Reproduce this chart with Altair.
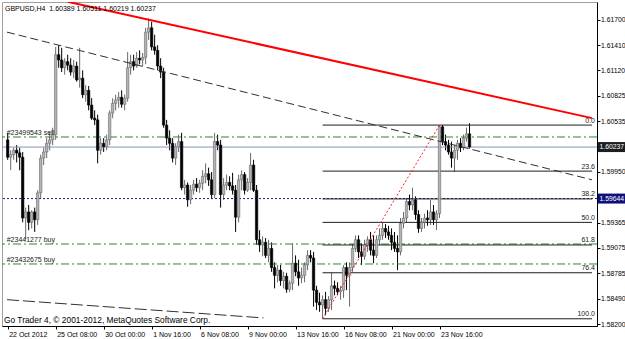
import altair as alt
import pandas as pd

# ---------------- data (GBPUSD H4 candles) ----------------
opens = [1.6032, 1.6012, 1.6015, 1.6020, 1.6017, 1.6012, 1.5942, 1.5949, 1.5937, 1.5949,
         1.5940, 1.5971, 1.6011, 1.6018, 1.6028, 1.6032, 1.6038, 1.6130, 1.6124, 1.6115,
         1.6122, 1.6118, 1.6110, 1.6117, 1.6101, 1.6103, 1.6084, 1.6089, 1.6072, 1.6057,
         1.6055, 1.6020, 1.6028, 1.6024, 1.6032, 1.6063, 1.6074, 1.6078, 1.6081, 1.6073,
         1.6080, 1.6115, 1.6122, 1.6117, 1.6126, 1.6124, 1.6127, 1.6156, 1.6161, 1.6139,
         1.6135, 1.6117, 1.6110, 1.6049, 1.6034, 1.6028, 1.6011, 1.6024, 1.6030, 1.5977,
         1.5980, 1.5963, 1.5974, 1.5981, 1.5977, 1.5982, 1.5990, 1.5993, 1.5986, 1.5969,
         1.6030, 1.6026, 1.5969, 1.5980, 1.5983, 1.5979, 1.5974, 1.5943, 1.5986, 1.5992,
         1.5974, 1.5983, 1.6003, 1.5974, 1.5917, 1.5911, 1.5914, 1.5899, 1.5907, 1.5885,
         1.5876, 1.5882, 1.5870, 1.5875, 1.5860, 1.5867, 1.5890, 1.5880, 1.5873, 1.5876,
         1.5888, 1.5899, 1.5896, 1.5859, 1.5845, 1.5842, 1.5848, 1.5838, 1.5848, 1.5864,
         1.5861, 1.5857, 1.5859, 1.5885, 1.5876, 1.5885, 1.5907, 1.5917, 1.5903, 1.5898,
         1.5911, 1.5917, 1.5905, 1.5899, 1.5917, 1.5922, 1.5930, 1.5926, 1.5922, 1.5914,
         1.5907, 1.5903, 1.5936, 1.5942, 1.5961, 1.5957, 1.5963, 1.5946, 1.5930, 1.5937,
         1.5942, 1.5940, 1.5949, 1.5940, 1.5947, 1.6047, 1.6030, 1.6026, 1.6018, 1.6011,
         1.6020, 1.6028, 1.6023, 1.6034, 1.60389]
highs = [1.6040, 1.6020, 1.6023, 1.6026, 1.6023, 1.6018, 1.5954, 1.5957, 1.5951, 1.5954,
         1.5974, 1.6015, 1.6023, 1.6034, 1.6041, 1.6046, 1.6139, 1.6141, 1.6138, 1.6126,
         1.6130, 1.6126, 1.6124, 1.6122, 1.6138, 1.6112, 1.6095, 1.6094, 1.6080, 1.6066,
         1.6061, 1.6034, 1.6034, 1.6038, 1.6066, 1.6080, 1.6084, 1.6087, 1.6089, 1.6084,
         1.6133, 1.6130, 1.6130, 1.6133, 1.6135, 1.6132, 1.6161, 1.6172, 1.6168, 1.6153,
         1.6141, 1.6126, 1.6115, 1.6055, 1.6043, 1.6034, 1.6028, 1.6038, 1.6040, 1.5986,
         1.5983, 1.5980, 1.5986, 1.5988, 1.5986, 1.5997, 1.6005, 1.6000, 1.5995, 1.6040,
         1.6038, 1.6032, 1.5988, 1.5992, 1.5990, 1.5994, 1.5980, 1.5992, 1.5997, 1.5995,
         1.5988, 1.6017, 1.6009, 1.5980, 1.5928, 1.5921, 1.5919, 1.5917, 1.5914, 1.5891,
         1.5888, 1.5888, 1.5880, 1.5879, 1.5870, 1.5913, 1.5899, 1.5894, 1.5885, 1.5891,
         1.5905, 1.5905, 1.5903, 1.5864, 1.5856, 1.5853, 1.5857, 1.5852, 1.5879, 1.5870,
         1.5868, 1.5864, 1.5888, 1.5891, 1.5891, 1.5912, 1.5922, 1.5922, 1.5913, 1.5917,
         1.5921, 1.5926, 1.5922, 1.5922, 1.5930, 1.5937, 1.5935, 1.5933, 1.5930, 1.5926,
         1.5922, 1.5942, 1.5949, 1.5965, 1.5969, 1.5977, 1.5967, 1.5951, 1.5942, 1.5947,
         1.5951, 1.5963, 1.5957, 1.5951, 1.6049, 1.6049, 1.6038, 1.6032, 1.6030, 1.6026,
         1.6032, 1.6034, 1.6038, 1.6046, 1.60511]
lows = [1.6009, 1.5997, 1.6009, 1.6006, 1.5997, 1.5937, 1.5917, 1.5928, 1.5930, 1.5926,
        1.5934, 1.5965, 1.6003, 1.6011, 1.6020, 1.6026, 1.6032, 1.6115, 1.6110, 1.6107,
        1.6112, 1.6106, 1.6103, 1.6099, 1.6092, 1.6080, 1.6076, 1.6066, 1.6055, 1.6049,
        1.6005, 1.6015, 1.6018, 1.6020, 1.6026, 1.6057, 1.6066, 1.6069, 1.6069, 1.6066,
        1.6076, 1.6107, 1.6112, 1.6115, 1.6119, 1.6117, 1.6119, 1.6147, 1.6135, 1.6130,
        1.6112, 1.6103, 1.6046, 1.6026, 1.6020, 1.6006, 1.6003, 1.6018, 1.5974, 1.5969,
        1.5955, 1.5958, 1.5969, 1.5972, 1.5971, 1.5974, 1.5982, 1.5979, 1.5965, 1.5965,
        1.6020, 1.5954, 1.5963, 1.5974, 1.5974, 1.5969, 1.5926, 1.5937, 1.5974, 1.5969,
        1.5972, 1.5974, 1.5972, 1.5911, 1.5903, 1.5898, 1.5896, 1.5891, 1.5880, 1.5861,
        1.5868, 1.5864, 1.5861, 1.5856, 1.5857, 1.5859, 1.5875, 1.5864, 1.5867, 1.5868,
        1.5882, 1.5891, 1.5840, 1.5836, 1.5834, 1.5826, 1.5830, 1.5834, 1.5836, 1.5853,
        1.5853, 1.5848, 1.5850, 1.5859, 1.5840, 1.5880, 1.5903, 1.5896, 1.5888, 1.5894,
        1.5903, 1.5899, 1.5890, 1.5896, 1.5911, 1.5917, 1.5919, 1.5917, 1.5905, 1.5903,
        1.5882, 1.5899, 1.5930, 1.5937, 1.5951, 1.5951, 1.5940, 1.5925, 1.5926, 1.5930,
        1.5933, 1.5934, 1.5934, 1.5928, 1.5942, 1.6026, 1.6020, 1.6015, 1.6000, 1.5995,
        1.6009, 1.6018, 1.6020, 1.6030, 1.60219]
closes = [1.6012, 1.6015, 1.6020, 1.6017, 1.6012, 1.5942, 1.5949, 1.5937, 1.5949, 1.5940,
          1.5971, 1.6011, 1.6018, 1.6028, 1.6032, 1.6038, 1.6130, 1.6124, 1.6115, 1.6122,
          1.6118, 1.6110, 1.6117, 1.6101, 1.6103, 1.6084, 1.6089, 1.6072, 1.6057, 1.6055,
          1.6020, 1.6028, 1.6024, 1.6032, 1.6063, 1.6074, 1.6078, 1.6081, 1.6073, 1.6080,
          1.6115, 1.6122, 1.6117, 1.6126, 1.6124, 1.6127, 1.6156, 1.6161, 1.6139, 1.6135,
          1.6117, 1.6110, 1.6049, 1.6034, 1.6028, 1.6011, 1.6024, 1.6030, 1.5977, 1.5980,
          1.5963, 1.5974, 1.5981, 1.5977, 1.5982, 1.5990, 1.5993, 1.5986, 1.5969, 1.6030,
          1.6026, 1.5969, 1.5980, 1.5983, 1.5979, 1.5974, 1.5943, 1.5986, 1.5992, 1.5974,
          1.5983, 1.6003, 1.5974, 1.5917, 1.5911, 1.5914, 1.5899, 1.5907, 1.5885, 1.5876,
          1.5882, 1.5870, 1.5875, 1.5860, 1.5867, 1.5890, 1.5880, 1.5873, 1.5876, 1.5888,
          1.5899, 1.5896, 1.5859, 1.5845, 1.5842, 1.5848, 1.5838, 1.5848, 1.5864, 1.5861,
          1.5857, 1.5859, 1.5885, 1.5876, 1.5885, 1.5907, 1.5917, 1.5903, 1.5898, 1.5911,
          1.5917, 1.5905, 1.5899, 1.5917, 1.5922, 1.5930, 1.5926, 1.5922, 1.5914, 1.5907,
          1.5903, 1.5936, 1.5942, 1.5961, 1.5957, 1.5963, 1.5946, 1.5930, 1.5937, 1.5942,
          1.5940, 1.5949, 1.5940, 1.5947, 1.6047, 1.6030, 1.6026, 1.6018, 1.6011, 1.6020,
          1.6028, 1.6023, 1.6034, 1.60389, 1.60237]

symbol = "GBPUSD,H4"
time_tick_bars = [0, 16, 32, 48, 64, 80, 96, 112, 128, 144]
time_tick_labels = ["22 Oct 2012", "25 Oct 08:00", "30 Oct 00:00", "1 Nov 16:00", "6 Nov 08:00",
                    "9 Nov 00:00", "13 Nov 16:00", "16 Nov 08:00", "21 Nov 00:00", "23 Nov 16:00"]
price_ticks = [1.61700, 1.61410, 1.61120, 1.60825, 1.60535, 1.59950, 1.59365,
               1.59075, 1.58785, 1.58490, 1.58200]

bid_price = 1.60237
hline_price = 1.59644
order_prices = [1.60353, 1.59121, 1.58891]
order_labels = ["#23499543 sell", "#23441277 buy", "#23432675 buy"]

fib_levels = ["0.0", "23.6", "38.2", "50.0", "61.8", "76.4", "100.0"]
fib_prices = [1.6049, 1.5996, 1.5964, 1.5937, 1.5911, 1.5879, 1.5826]
fib_start_bar = 105

# trend lines: (bar, price) anchors
red_trend_bars = [20, 194.85]
red_trend_prices = [1.6191, 1.6057]
dash_trend_bars = [-0.23, 194.85]
dash_trend_prices = [1.6156, 1.5986]
low_trend_bars = [-0.23, 85.3]
low_trend_prices = [1.5848, 1.5827]
fib_diag_bars = [105, 144]
fib_diag_prices = [1.5826, 1.6049]

copyright_text = "Go Trader 4, \u00a9 2001-2012, MetaQuotes Software Corp."

# ---------------- chart ----------------
W, H = 595, 324
X_DOM = [-0.23, 194.85]
Y_DOM = [1.58177, 1.61907]
FONT = "Liberation Sans"
FS = 7
AFS = 6.8

xs = alt.Scale(domain=X_DOM, nice=False, zero=False)
ys = alt.Scale(domain=Y_DOM, nice=False, zero=False)

df = pd.DataFrame({"bar": list(range(len(opens))), "open": opens, "high": highs,
                   "low": lows, "close": closes})
df["dir"] = ["up" if c >= o else "down" for o, c in zip(opens, closes)]

label_js = "[" + ",".join("'%s'" % s for s in time_tick_labels) + "]"
x_axis = alt.Axis(values=time_tick_bars, labelExpr=label_js + "[round(datum.value/16)]",
                  title=None, grid=False, orient="bottom", tickSize=3, tickColor="black",
                  domainColor="black", labelAlign="left", labelBaseline="top", labelPadding=1,
                  labelOffset=1, labelFont=FONT, labelFontSize=FS, labelColor="black",
                  labelOverlap=False, labelFlush=False)
y_axis = alt.Axis(values=price_ticks, format=".5f", title=None, grid=False, orient="right",
                  tickSize=3, tickColor="black", domainColor="black", labelPadding=0.5,
                  labelFont=FONT, labelFontSize=AFS, labelColor="black",
                  labelOverlap=False, labelFlush=False)

fill_scale = alt.Scale(domain=["up", "down"], range=["#b4b4b4", "#000000"])
stroke_scale = alt.Scale(domain=["up", "down"], range=["#6a6a6a", "#000000"])


def yq(field="price"):
    return alt.Y(field + ":Q", scale=ys, axis=y_axis)


def xq(field="bar"):
    return alt.X(field + ":Q", scale=xs, axis=x_axis)


base = alt.Chart(df)
wicks = base.mark_rule(strokeWidth=1).encode(
    x=xq(), y=yq("low"), y2="high:Q",
    color=alt.Color("dir:N", scale=stroke_scale, legend=None),
)
bodies = base.mark_bar(size=2.4, strokeWidth=0.6).encode(
    x=xq(), y=yq("open"), y2="close:Q",
    fill=alt.Fill("dir:N", scale=fill_scale, legend=None),
    stroke=alt.Stroke("dir:N", scale=stroke_scale, legend=None),
)

bid_rule = alt.Chart(pd.DataFrame({"price": [bid_price]})).mark_rule(
    color="#8396bb", strokeWidth=1).encode(y=yq())
navy_rule = alt.Chart(pd.DataFrame({"price": [hline_price]})).mark_rule(
    color="#1a1a8c", strokeWidth=1, strokeDash=[2, 2]).encode(y=yq())
order_df = pd.DataFrame({"price": order_prices, "label": order_labels})
order_rules = alt.Chart(order_df).mark_rule(
    color="#2a8a2a", strokeWidth=1, strokeDash=[8, 3, 2, 3]).encode(y=yq())
order_text = alt.Chart(order_df).mark_text(
    align="left", baseline="middle", dy=-4, font=FONT, fontSize=FS, color="#202020").encode(
    x=alt.value(4.7), y=yq(), text="label:N")

fib_df = pd.DataFrame({"price": fib_prices, "level": fib_levels,
                       "x0": [fib_start_bar] * len(fib_prices),
                       "x1": [X_DOM[1]] * len(fib_prices)})
fib_rules = alt.Chart(fib_df).mark_rule(color="#1e1e1e", strokeWidth=1).encode(
    x=xq("x0"), x2="x1:Q", y=yq())
fib_text = alt.Chart(fib_df).mark_text(
    align="right", baseline="middle", dy=-4.5, font=FONT, fontSize=FS, color="#202020").encode(
    x=alt.value(593), y=yq(), text="level:N")


def trend(bars, prices, **kw):
    d = pd.DataFrame({"bar": bars, "price": prices})
    return alt.Chart(d).mark_line(clip=True, **kw).encode(x=xq(), y=yq())


red_line = trend(red_trend_bars, red_trend_prices, color="#ff0000", strokeWidth=2)
dash_line = trend(dash_trend_bars, dash_trend_prices, color="#303030", strokeWidth=1,
                  strokeDash=[8, 4])
low_line = trend(low_trend_bars, low_trend_prices, color="#303030", strokeWidth=1,
                 strokeDash=[12, 4])
fib_diag = trend(fib_diag_bars, fib_diag_prices, color="#ff2020", strokeWidth=1,
                 strokeDash=[2, 2])

title_str = "%s\u00a0 %.5f %.5f %.5f %.5f" % (symbol, opens[-1], highs[-1], lows[-1], closes[-1])
title_text = alt.Chart(pd.DataFrame({"t": [title_str]})).mark_text(
    align="left", baseline="middle", font=FONT, fontSize=FS, color="black").encode(
    x=alt.value(3), y=alt.value(6.5), text="t:N")
copy_text = alt.Chart(pd.DataFrame({"t": [copyright_text]})).mark_text(
    align="left", baseline="middle", font=FONT, fontSize=8.4, color="black").encode(
    x=alt.value(2), y=alt.value(318), text="t:N")

box_df = pd.DataFrame({"price": [bid_price, hline_price],
                       "label": ["%.5f" % bid_price, "%.5f" % hline_price],
                       "kind": ["bid", "line"]})
box_color = alt.Scale(domain=["bid", "line"], range=["#1e1e1e", "#10107a"])
price_boxes = alt.Chart(box_df).mark_tick(orient="horizontal", thickness=10, size=27,
                                          opacity=1).encode(
    x=alt.value(609.5), y=yq(), color=alt.Color("kind:N", scale=box_color, legend=None))
price_box_text = alt.Chart(box_df).mark_text(
    align="left", baseline="middle", font=FONT, fontSize=AFS, color="white").encode(
    x=alt.value(597.5), y=yq(), text="label:N")

chart = alt.layer(
    wicks, bid_rule, navy_rule, order_rules, fib_rules, bodies,
    dash_line, low_line, red_line, fib_diag,
    order_text, fib_text, title_text, copy_text, price_boxes, price_box_text,
).resolve_scale(color="independent").properties(
    width=W, height=H,
    autosize=alt.AutoSizeParams(type="none"),
    padding={"left": 2, "top": 2, "right": 28, "bottom": 13},
    background="white",
).configure_view(stroke="#a0a0a0", strokeWidth=1)

chart.save("out.html", embed_options={"renderer": "svg", "actions": False})
